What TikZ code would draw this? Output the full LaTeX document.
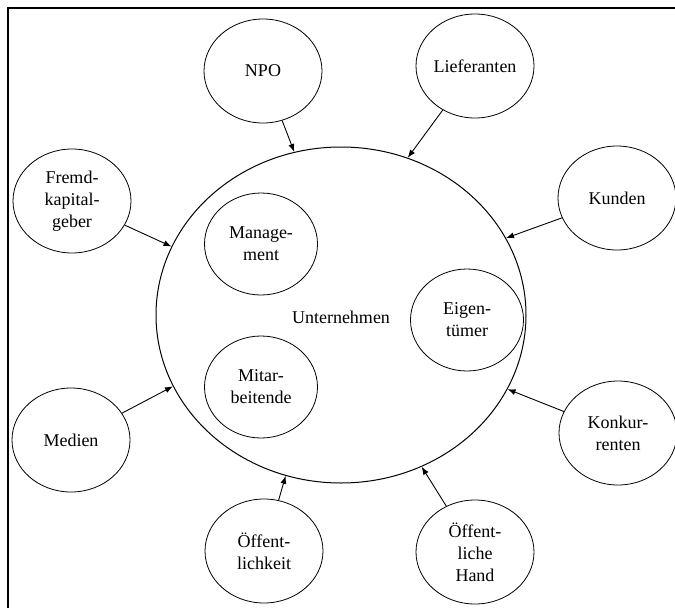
\documentclass[tikz,border=0pt]{standalone}
\usepackage{fontspec}
\setmainfont{Liberation Serif}
\usetikzlibrary{shapes.geometric,arrows.meta}

\tikzset{
  party/.style={ellipse, draw, line width=0.8pt, inner sep=0pt, align=center,
    font=\fontsize{18}{22}\selectfont},
  outer/.style={party, minimum width=118pt, minimum height=104pt},
  inner/.style={party, minimum width=113pt, minimum height=102pt},
  firm/.style={ellipse, draw, line width=1pt, inner sep=0pt,
    minimum width=370pt, minimum height=336pt, font=\fontsize{18}{22}\selectfont},
  influence/.style={-{Latex[length=8pt,width=6pt]}, line width=0.9pt},
  frame/.style={line width=2.6pt}
}

\begin{document}
\begin{tikzpicture}[x=1pt,y=-1pt]
  \useasboundingbox (0,0) rectangle (675,608);

  % open frame: top and left edges
  \draw[frame] (675,8) -- (8,8) -- (8,608);

  % the company and its internal groups
  \node[firm] (u) at (341,315) {};
  \node[font=\fontsize{18}{22}\selectfont] (ulabel) at (341,317) {Unternehmen};
  \node[inner] (mgmt) at (261,244) {Manage-\\ment};
  \node[inner] (mit)  at (261,387) {Mitar-\\beitende};
  \node[inner] (eig)  at (467,320) {Eigen-\\tümer};

  % external stakeholders
  \node[outer] (npo)  at (263,71)  {NPO};
  \node[outer] (lief) at (475,66)  {Lieferanten};
  \node[outer] (kun)  at (617,198) {Kunden};
  \node[outer] (fkg)  at (72,201)  {Fremd-\\kapital-\\geber};
  \node[outer] (med)  at (71,440)  {Medien};
  \node[outer] (oef)  at (264,551) {Öffent-\\lichkeit};
  \node[outer] (oeh)  at (475,552) {Öffent-\\liche\\Hand};
  \node[outer] (kon)  at (618,433) {Konkur-\\renten};

  % influences on the company
  \draw[influence] (npo)  -- (u.106.4);
  \draw[influence] (lief) -- (u.67.8);
  \draw[influence] (kun)  -- (u.25);
  \draw[influence] (fkg)  -- (u.158);
  \draw[influence] (med)  -- (u.203.2);
  \draw[influence] (oef)  -- (u.251.4);
  \draw[influence] (oeh)  -- (u.298.4);
  \draw[influence] (kon)  -- (u.336.6);
\end{tikzpicture}
\end{document}
